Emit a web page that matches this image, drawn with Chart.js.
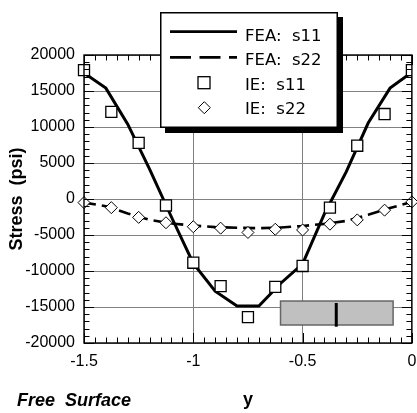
<!DOCTYPE html>
<html>
<head>
<meta charset="utf-8">
<script src="https://cdn.jsdelivr.net/npm/chart.js@4.4.1/dist/chart.umd.min.js"></script>
<style>
html,body{margin:0;padding:0;background:#fff;overflow:hidden;}
#wrap{position:relative;width:417px;height:413px;overflow:hidden;background:#fff;}
#c{position:absolute;left:0;top:0;}
#ov{position:absolute;left:0;top:0;pointer-events:none;}
</style>
</head>
<body>
<div id="wrap">
<canvas id="c" width="421" height="413" style="width:421px;height:413px"></canvas>
<svg id="ov" width="417" height="413" xmlns="http://www.w3.org/2000/svg">
  <rect x="165" y="17" width="178" height="116" fill="#000"/>
  <rect x="160.75" y="12.75" width="176.5" height="114.5" fill="#fff" stroke="#000" stroke-width="1.5"/>
  <line x1="170" y1="31.7" x2="237" y2="31.7" stroke="#000" stroke-width="2.8"/>
  <line x1="170" y1="57.3" x2="237" y2="57.3" stroke="#000" stroke-width="2.8" stroke-dasharray="21 8.5"/>
  <rect x="198" y="76.7" width="12" height="12" fill="#fff" stroke="#000" stroke-width="1.3"/>
  <polygon points="204.3,101.7 210.3,107.7 204.3,113.7 198.3,107.7" fill="#fff" stroke="#000" stroke-width="1"/>
  <g font-family="'DejaVu Sans', Verdana, sans-serif" font-size="16.5" fill="#000" style="white-space:pre">
    <text x="245" y="40.5" xml:space="preserve">FEA:  s11</text>
    <text x="245" y="65" xml:space="preserve">FEA:  s22</text>
    <text x="245" y="89.5" xml:space="preserve">IE:  s11</text>
    <text x="245" y="114" xml:space="preserve">IE:  s22</text>
  </g>
  <text x="17" y="406" font-family="'Liberation Sans', Arial, sans-serif" font-size="18" font-weight="bold" font-style="italic" xml:space="preserve" style="white-space:pre">Free  Surface</text>
</svg>
</div>
<script>
// ---- data ----
const feaX   = [-1.5, -1.4, -1.3, -1.2, -1.1, -1.0, -0.9, -0.8, -0.7, -0.6, -0.5, -0.4, -0.3, -0.2, -0.1, 0];
const feaS11 = [17500, 15400, 10400, 4150, -2500, -8950, -12800, -14850, -14850, -11700, -9000, -2050, 3800, 10550, 15400, 17600];
const feaS22 = [-500, -1000, -2000, -2900, -3400, -3700, -3900, -4000, -4050, -3950, -3750, -3450, -3050, -2200, -1250, -400];

const ieX    = [-1.5, -1.375, -1.25, -1.125, -1.0, -0.875, -0.75, -0.625, -0.5, -0.375, -0.25, -0.125, 0];
const ieS11  = [17900, 12100, 7800, -900, -8850, -12100, -16400, -12200, -9300, -1200, 7400, 11800, 17900];
const ieS22  = [-500, -1200, -2550, -3300, -3850, -4050, -4650, -4200, -4300, -3500, -2900, -1550, -400];

const xTickValues = [-1.5, -1.0, -0.5, 0];
const xTickLabels = ['-1.5', '-1', '-0.5', '0'];
const yTickValues = [-20000, -15000, -10000, -5000, 0, 5000, 10000, 15000, 20000];
const yTickLabels = ['-20000', '-15000', '-10000', '-5000', '0', '5000', '10000', '15000', '20000'];

// inset schematic (in data units)
const insetX = [-0.601, -0.086];
const insetY = [-14170, -17500];
const insetBarX = -0.346;
const insetBarY = [-14440, -17740];

const xMin = -1.5, xMax = 0, xMinorStep = 0.05;
const yMin = -20000, yMax = 20000, yMinorStep = 1000;

const pts = (xs, ys) => xs.map((x, i) => ({x, y: ys[i]}));

const FONT = "'Liberation Sans', Arial, sans-serif";

const framePlugin = {
  id: 'frameTicks',
  afterDatasetsDraw(chart) {
    const {ctx, scales: {x, y}} = chart;
    ctx.save();
    const x0 = x.getPixelForValue(insetX[0]), x1 = x.getPixelForValue(insetX[1]);
    const y0 = y.getPixelForValue(insetY[0]), y1 = y.getPixelForValue(insetY[1]);
    ctx.fillStyle = '#c0c0c0';
    ctx.fillRect(x0, y0, x1 - x0, y1 - y0);
    ctx.strokeStyle = '#666';
    ctx.lineWidth = 1.5;
    ctx.strokeRect(x0, y0, x1 - x0, y1 - y0);
    const bx = x.getPixelForValue(insetBarX);
    ctx.strokeStyle = '#000';
    ctx.lineWidth = 3;
    ctx.beginPath();
    ctx.moveTo(bx, y.getPixelForValue(insetBarY[0]));
    ctx.lineTo(bx, y.getPixelForValue(insetBarY[1]));
    ctx.stroke();
    ctx.restore();
  },
  afterDraw(chart) {
    const {ctx, chartArea: a, scales: {x, y}} = chart;
    ctx.save();
    ctx.strokeStyle = '#000';
    ctx.lineWidth = 1;
    ctx.beginPath();
    const nx = Math.round((xMax - xMin) / xMinorStep);
    for (let i = 0; i <= nx; i++) {
      const px = Math.round(x.getPixelForValue(xMin + i * xMinorStep)) + 0.5;
      const L = (i % 10 === 0) ? 10 : 5.5;
      ctx.moveTo(px, a.bottom); ctx.lineTo(px, a.bottom - L);
      ctx.moveTo(px, a.top); ctx.lineTo(px, a.top + L);
    }
    const ny = Math.round((yMax - yMin) / yMinorStep);
    for (let i = 0; i <= ny; i++) {
      const py = Math.round(y.getPixelForValue(yMin + i * yMinorStep)) + 0.5;
      const L = (i % 5 === 0) ? 10 : 5.5;
      ctx.moveTo(a.left, py); ctx.lineTo(a.left + L, py);
      ctx.moveTo(a.right, py); ctx.lineTo(a.right - L, py);
    }
    ctx.stroke();
    ctx.lineWidth = 1.4;
    ctx.strokeRect(a.left, a.top, a.right - a.left, a.bottom - a.top);
    ctx.restore();
  }
};

new Chart(document.getElementById('c'), {
  type: 'line',
  data: {
    datasets: [
      { label: 'IE: s11', data: pts(ieX, ieS11), showLine: false, order: 0,
        pointStyle: 'rect', pointRadius: 7.8, pointBorderWidth: 1.3,
        pointBackgroundColor: '#fff', pointBorderColor: '#000',
        clip: {left: false, top: false, right: 0, bottom: false} },
      { label: 'IE: s22', data: pts(ieX, ieS22), showLine: false, order: 0,
        pointStyle: 'rectRot', pointRadius: 6, pointBorderWidth: 1,
        pointBackgroundColor: '#fff', pointBorderColor: '#000', clip: false },
      { label: 'FEA: s11', data: pts(feaX, feaS11), order: 1,
        borderColor: '#000', borderWidth: 3, pointRadius: 0, tension: 0 },
      { label: 'FEA: s22', data: pts(feaX, feaS22), order: 1,
        borderColor: '#000', borderWidth: 2.6, borderDash: [12, 6], pointRadius: 0, tension: 0 }
    ]
  },
  options: {
    responsive: false,
    animation: false,
    events: [],
    layout: { padding: { top: 55, right: 0, left: 0, bottom: 0 } },
    plugins: { legend: { display: false }, tooltip: { enabled: false } },
    scales: {
      x: {
        type: 'linear', min: xMin, max: xMax,
        afterBuildTicks: (s) => { s.ticks = xTickValues.map(v => ({value: v})); },
        afterFit: (s) => { s.height = 70; s.paddingLeft = 0; s.paddingRight = 0; },
        ticks: { callback: (v, i) => xTickLabels[i], color: '#000', font: { family: FONT, size: 16 }, padding: 9, maxRotation: 0 },
        grid: { color: '#808080', lineWidth: 1, drawTicks: false },
        border: { display: false },
        title: { display: true, text: 'y', color: '#000', font: { family: FONT, size: 18, weight: 'bold' }, padding: { top: 0, bottom: 2 } }
      },
      y: {
        type: 'linear', min: yMin, max: yMax,
        afterBuildTicks: (s) => { s.ticks = yTickValues.map(v => ({value: v})); },
        afterFit: (s) => { s.width = 84; },
        ticks: { callback: (v, i) => yTickLabels[i], color: '#000', font: { family: FONT, size: 16 }, padding: 9 },
        grid: { color: '#808080', lineWidth: 1, drawTicks: false },
        border: { display: false },
        title: { display: true, text: 'Stress  (psi)', color: '#000', font: { family: FONT, size: 18, weight: 'bold' }, padding: { top: 6, bottom: 0 } }
      }
    }
  },
  plugins: [framePlugin]
});
</script>
</body>
</html>
